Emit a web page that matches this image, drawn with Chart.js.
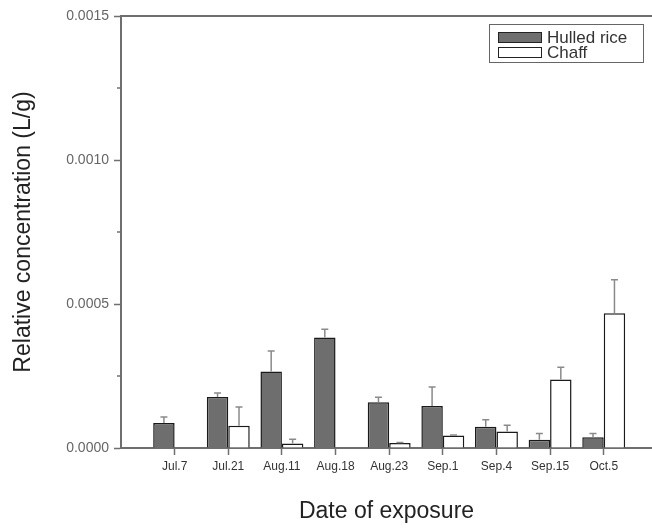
<!DOCTYPE html>
<html>
<head>
<meta charset="utf-8">
<script src="https://cdn.jsdelivr.net/npm/chart.js@4.4.0/dist/chart.umd.min.js"></script>
<style>
  html, body { margin: 0; padding: 0; background: #fff; overflow: hidden; }
  #wrap { width: 652px; height: 531px; }
</style>
</head>
<body>
<div id="wrap"><canvas id="chart" width="652" height="531"></canvas></div>
<script>
// dates of exposure
const categories = ["Jul.7", "Jul.21", "Aug.11", "Aug.18", "Aug.23", "Sep.1", "Sep.4", "Sep.15", "Oct.5"];

// relative concentration (L/g)
const hulledRice = [0.000087, 0.000177, 0.000266, 0.000384, 0.000159, 0.000146, 0.000074, 0.000029, 0.000037];
const hulledErr  = [0.000021, 0.000014, 0.000071, 0.000028, 0.000017, 0.000066, 0.000024, 0.000021, 0.000013];
const chaff      = [null, 0.0000775, 0.000016, null, 0.0000174, 0.000043, 0.000057, 0.000238, 0.000468];
const chaffErr   = [0, 0.000065, 0.000014, 0, 0.000002, 0.000002, 0.000022, 0.000042, 0.000116];

const yTicks = [0, 0.0005, 0.001, 0.0015];
const yMinorTicks = [0.00025, 0.00075, 0.00125];

const axisGray = "#6f6f6f";

// error bars (upward only) drawn from the y scale
const errorBars = {
    id: "errorBars",
    afterDatasetsDraw(chart) {
        const ctx = chart.ctx;
        const y = chart.scales.y;
        const errs = [hulledErr, chaffErr];
        ctx.save();
        ctx.strokeStyle = "#8a8a8a";
        ctx.lineWidth = 1.5;
        chart.data.datasets.forEach((ds, di) => {
            const meta = chart.getDatasetMeta(di);
            meta.data.forEach((bar, i) => {
                const v = ds.data[i].y;
                const e = errs[di][i];
                if (v == null || !e) return;
                const top = y.getPixelForValue(v + e);
                ctx.beginPath();
                ctx.moveTo(bar.x, bar.y);
                ctx.lineTo(bar.x, top);
                ctx.moveTo(bar.x - 3.5, top);
                ctx.lineTo(bar.x + 3.5, top);
                ctx.stroke();
            });
        });
        ctx.restore();
    }
};

// top frame line, minor y ticks and the boxed legend
const frame = {
    id: "frame",
    afterDraw(chart) {
        const ctx = chart.ctx;
        const a = chart.chartArea;
        const y = chart.scales.y;
        ctx.save();
        ctx.strokeStyle = axisGray;
        ctx.lineWidth = 2;
        ctx.beginPath();
        ctx.moveTo(a.left, a.top);
        ctx.lineTo(a.right, a.top);
        ctx.stroke();

        ctx.lineWidth = 1.5;
        yMinorTicks.forEach(v => {
            const py = y.getPixelForValue(v);
            ctx.beginPath();
            ctx.moveTo(a.left - 4, py);
            ctx.lineTo(a.left, py);
            ctx.stroke();
        });

        // legend
        const lx = 489, ly = 24, lw = 154, lh = 38;
        ctx.lineWidth = 1;
        ctx.strokeStyle = "#666";
        ctx.strokeRect(lx + 0.5, ly + 0.5, lw, lh);
        ctx.font = "17px 'Liberation Sans', Arial, sans-serif";
        ctx.textBaseline = "middle";
        chart.data.datasets.forEach((ds, di) => {
            const cy = ly + 13 + di * 15;
            ctx.fillStyle = ds.backgroundColor;
            ctx.fillRect(lx + 9, cy - 5, 43, 10);
            ctx.strokeStyle = "#222";
            ctx.strokeRect(lx + 9.5, cy - 4.5, 43, 10);
            ctx.fillStyle = "#333";
            ctx.fillText(ds.label, lx + 58, cy + 1);
        });
        ctx.restore();
    }
};

const toPoints = arr => arr.map((v, i) => ({ x: i, y: v }));

new Chart(document.getElementById("chart"), {
    type: "bar",
    data: {
        datasets: [{
            label: "Hulled rice",
            data: toPoints(hulledRice),
            backgroundColor: "#6e6e6e",
            borderColor: "#1a1a1a",
            borderWidth: 1.5,
            categoryPercentage: 0.8,
            barPercentage: 1.0
        }, {
            label: "Chaff",
            data: toPoints(chaff),
            backgroundColor: "#ffffff",
            borderColor: "#1a1a1a",
            borderWidth: 1.5,
            categoryPercentage: 0.8,
            barPercentage: 1.0
        }]
    },
    options: {
        responsive: false,
        animation: false,
        layout: { padding: { top: 16, right: 0, left: 0, bottom: 0 } },
        plugins: { legend: { display: false }, tooltip: { enabled: false } },
        scales: {
            x: {
                type: "linear",
                offset: false,
                min: -1,
                max: 8.9,
                afterBuildTicks: scale => { scale.ticks = categories.map((c, i) => ({ value: i })); },
                afterFit: scale => { scale.height = 83; },
                grid: { display: true, drawOnChartArea: false, offset: false, drawTicks: true, tickLength: 7, tickColor: axisGray, tickWidth: 1.5 },
                border: { color: axisGray, width: 2 },
                ticks: {
                    autoSkip: false,
                    maxRotation: 0,
                    padding: 4,
                    color: "#333",
                    font: { family: "'Liberation Sans', Arial, sans-serif", size: 12 },
                    callback: v => categories[v]
                },
                title: {
                    display: true,
                    text: "Date of exposure",
                    color: "#222",
                    padding: 6,
                    font: { family: "'Liberation Sans', Arial, sans-serif", size: 23 }
                }
            },
            y: {
                min: 0,
                max: 0.0015,
                afterBuildTicks: scale => { scale.ticks = yTicks.map(v => ({ value: v })); },
                afterFit: scale => { scale.width = 121; },
                grid: { display: true, drawOnChartArea: false, drawTicks: true, tickLength: 7, tickColor: axisGray, tickWidth: 1.5 },
                border: { color: axisGray, width: 2 },
                ticks: {
                    padding: 5,
                    color: "#666",
                    font: { family: "'Liberation Sans', Arial, sans-serif", size: 14 },
                    callback: v => v.toFixed(4)
                },
                title: {
                    display: true,
                    text: "Relative concentration (L/g)",
                    color: "#222",
                    padding: 10,
                    font: { family: "'Liberation Sans', Arial, sans-serif", size: 23 }
                }
            }
        }
    },
    plugins: [errorBars, frame]
});
</script>
</body>
</html>
